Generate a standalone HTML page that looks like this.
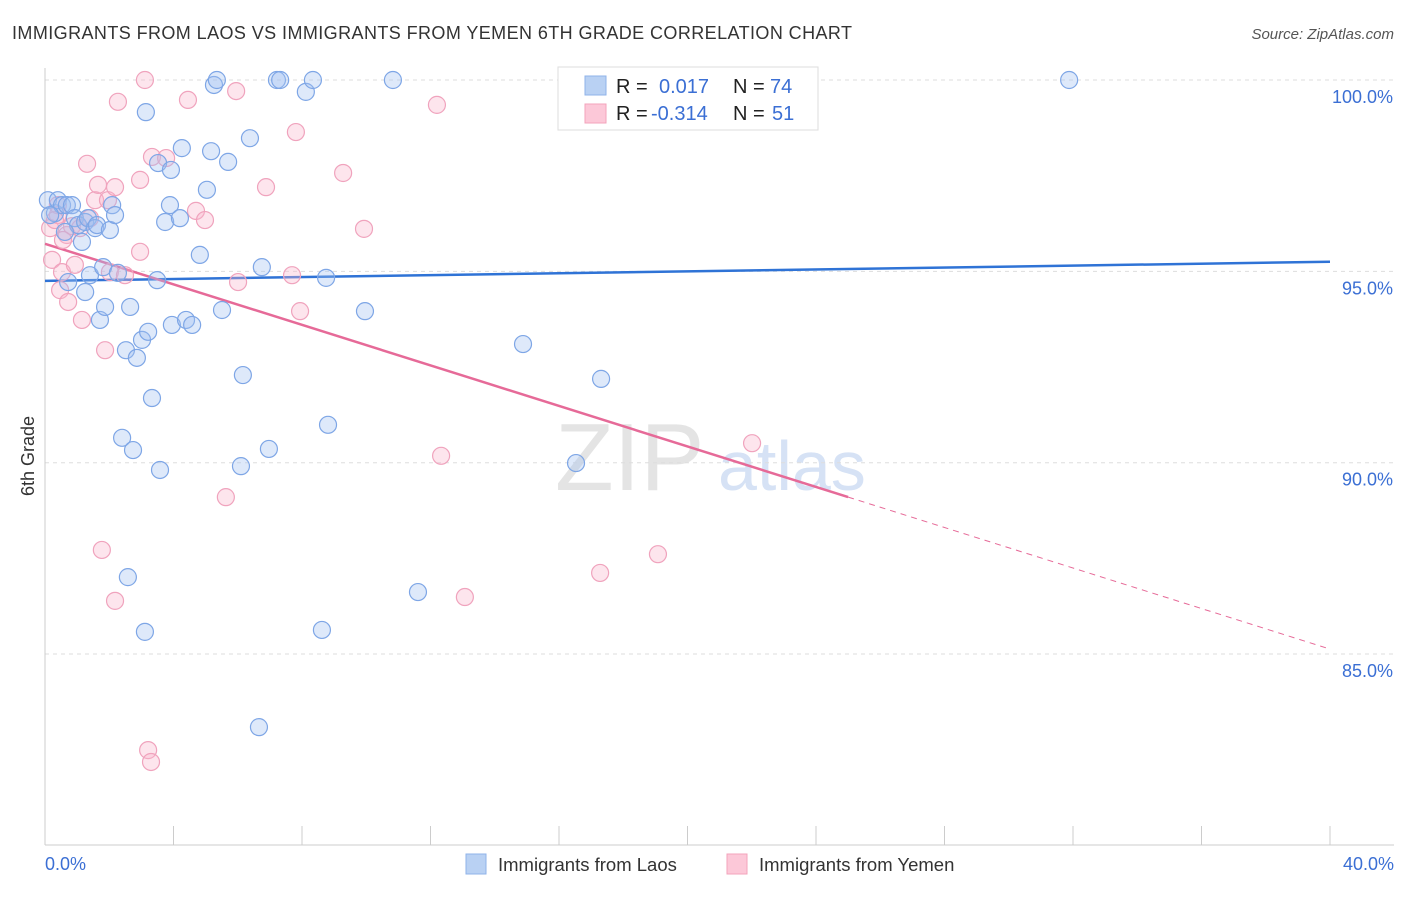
<!DOCTYPE html>
<html><head><meta charset="utf-8">
<style>
body{margin:0;background:#fff;font-family:"Liberation Sans",sans-serif;}
svg text{font-family:"Liberation Sans",sans-serif;}
</style></head>
<body>
<svg id="chart" width="1406" height="892">
<text x="12" y="39" font-size="18" fill="#333" textLength="840">IMMIGRANTS FROM LAOS VS IMMIGRANTS FROM YEMEN 6TH GRADE CORRELATION CHART</text>
<text x="1394" y="39" font-size="15" fill="#555" font-style="italic" text-anchor="end">Source: ZipAtlas.com</text>
<text x="555" y="490" font-size="96" fill="#e4e4e4" font-family="Liberation Serif">ZIP</text>
<text x="718" y="490" font-size="70" fill="#d6e2f5">atlas</text>
<g id="grid"></g>
<g id="axes"></g>
<g id="trends"></g>
<g id="points"></g>
<text x="34" y="456" font-size="18" fill="#333" transform="rotate(-90 34 456)" text-anchor="middle">6th Grade</text>
<text x="45" y="870" font-size="18" fill="#3b6fd4">0.0%</text>
<text x="1394" y="870" font-size="18" fill="#3b6fd4" text-anchor="end">40.0%</text>
<g>
<rect x="558" y="67" width="260" height="63" fill="#fff" stroke="#ddd"/>
<rect x="585" y="76" width="21" height="19" fill="#b9d1f3" stroke="#8fb3ea"/>
<rect x="585" y="104" width="21" height="19" fill="#fcc8d8" stroke="#f3a3bb"/>
<text x="616" y="93" font-size="20" fill="#222">R =</text><text x="659" y="93" font-size="20" fill="#3b6fd4">0.017</text>
<text x="733" y="93" font-size="20" fill="#222">N =</text><text x="770" y="93" font-size="20" fill="#3b6fd4">74</text>
<text x="616" y="120" font-size="20" fill="#222">R =</text><text x="651" y="120" font-size="20" fill="#3b6fd4">-0.314</text>
<text x="733" y="120" font-size="20" fill="#222">N =</text><text x="772" y="120" font-size="20" fill="#3b6fd4">51</text>
</g>
<g>
<rect x="466" y="854" width="20" height="20" fill="#b9d1f3" stroke="#8fb3ea"/>
<text x="498" y="871" font-size="18.5" fill="#333">Immigrants from Laos</text>
<rect x="727" y="854" width="20" height="20" fill="#fcc8d8" stroke="#f3a3bb"/>
<text x="759" y="871" font-size="18.5" fill="#333">Immigrants from Yemen</text>
</g>
</svg>
<script>
const yTicks=[100,95,90,85];
const yTickLabels=["100.0%","95.0%","90.0%","85.0%"];
const xTicks=[0,4,8,12,16,20,24,28,32,36,40];
const laosX=[0.09,0.31,0.40,0.53,0.68,0.84,0.16,0.93,1.03,1.25,1.34,1.56,1.62,2.02,2.09,2.18,0.62,1.15,0.72,1.25,1.40,1.81,2.27,1.71,1.87,2.65,2.52,2.86,3.02,3.21,3.49,3.95,4.39,4.58,3.33,2.40,2.74,3.58,2.58,3.11,3.14,3.52,3.92,3.89,3.74,4.20,4.26,4.82,5.04,5.17,5.26,5.35,5.70,6.38,7.22,7.32,8.12,8.34,10.83,31.88,5.51,6.16,6.10,6.75,6.97,8.75,9.96,8.81,8.62,6.66,11.61,14.88,17.31,16.53];
const laosY=[96.86,96.52,96.86,96.73,96.73,96.73,96.47,96.39,96.21,96.29,96.39,96.13,96.21,96.08,96.73,96.47,96.03,95.77,94.72,94.46,94.90,95.11,94.96,93.73,94.07,94.07,92.94,92.74,93.21,93.42,94.77,93.60,93.73,93.60,91.69,90.65,90.33,89.81,87.01,85.58,99.16,97.83,97.65,96.73,96.29,96.39,98.22,95.43,97.13,98.14,99.87,100,97.86,98.48,100,100,99.69,100,100,100,93.99,92.29,89.91,95.11,90.36,94.83,93.96,90.99,85.63,83.09,86.62,93.10,92.19,89.99];
const yemenX=[0.16,0.22,0.40,0.47,0.53,0.72,0.68,0.84,0.93,1.15,1.31,1.40,1.56,1.65,1.87,1.96,2.18,2.27,2.02,2.96,2.96,3.33,3.77,4.45,4.70,4.98,5.95,6.01,6.88,7.69,7.81,7.94,9.28,9.93,12.20,12.33,1.77,2.18,3.11,3.21,3.30,5.63,13.07,17.28,19.08,22.01,0.40,0.56,1.09,2.49,0.31];
const yemenY=[96.13,95.30,96.47,94.51,94.98,94.20,95.95,96.18,95.17,93.73,97.81,96.39,96.86,97.26,92.94,96.86,97.20,99.43,94.98,97.39,95.51,97.99,97.96,99.48,96.58,96.34,99.71,94.72,97.20,94.90,98.64,93.96,97.57,96.11,99.35,90.18,87.72,86.39,100,82.49,82.18,89.10,86.49,87.12,87.61,90.51,96.73,95.82,96.13,94.90,96.34];
const laosTrend=[94.75,95.25];
const yemenTrend=[95.72,85.13];
const yemenSolidEnd=25;
const NS='http://www.w3.org/2000/svg';
const X=v=>45+v*(1285/40);
const Y=v=>80+(100-v)*38.27;
function mk(t,a,p){const e=document.createElementNS(NS,t);for(const k in a)e.setAttribute(k,a[k]);p.appendChild(e);return e;}
const grid=document.getElementById('grid');
yTicks.forEach((t,i)=>{
 const l=mk('line',{x1:45,x2:1394,y1:Y(t),y2:Y(t),stroke:'#ddd','stroke-dasharray':'4,4'},grid);
 
 
 const tx=mk('text',{x:1393,y:Y(t)+23,'font-size':18,fill:'#3b6fd4','text-anchor':'end'},grid);
 tx.textContent=yTickLabels[i];
 
 
});
const axes=document.getElementById('axes');
const ya=mk('line',{x1:45,x2:45,y1:68,y2:845,stroke:'#ccc'},axes);


const xa=mk('line',{x1:45,x2:1394,y1:845,y2:845,stroke:'#ccc'},axes);


xTicks.forEach(t=>{
 const l=mk('line',{x1:X(t),x2:X(t),y1:826,y2:845,stroke:'#ccc'},axes);
 
 
});
const tr=document.getElementById('trends');
const lb=mk('line',{x1:X(0),y1:Y(laosTrend[0]),x2:X(40),y2:Y(laosTrend[1]),stroke:'#2f73d6','stroke-width':2.5},tr);


const yAt=x=>yemenTrend[0]+(yemenTrend[1]-yemenTrend[0])*x/40;
const lp=mk('line',{x1:X(0),y1:Y(yAt(0)),x2:X(yemenSolidEnd),y2:Y(yAt(yemenSolidEnd)),stroke:'#e66a98','stroke-width':2.5},tr);


const lpd=mk('line',{x1:X(yemenSolidEnd),y1:Y(yAt(yemenSolidEnd)),x2:X(40),y2:Y(yAt(40)),stroke:'#e66a98','stroke-width':1,'stroke-dasharray':'6,5'},tr);


const pts=document.getElementById('points');
yemenX.forEach((x,i)=>{
 const c=mk('circle',{cx:X(x),cy:Y(yemenY[i]),r:8.5,fill:'rgba(248,180,202,0.35)',stroke:'#f0a3bd','stroke-width':1.2},pts);
 
 
});
laosX.forEach((x,i)=>{
 const c=mk('circle',{cx:X(x),cy:Y(laosY[i]),r:8.5,fill:'rgba(160,192,240,0.35)',stroke:'#7ea6e6','stroke-width':1.2},pts);
 
 
});
</script>
</body></html>
